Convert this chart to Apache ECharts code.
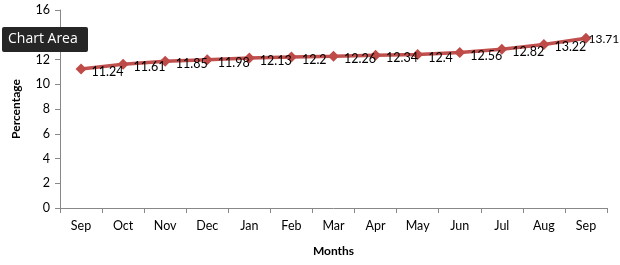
<!DOCTYPE html>
<html><head><meta charset="utf-8">
<script src="https://cdn.jsdelivr.net/npm/echarts@6/dist/echarts.min.js"></script>
<style>html,body{margin:0;padding:0;background:#fff}#c{width:620px;height:265px}</style>
</head><body><div id="c"></div>
<script>
const categories = ['Sep','Oct','Nov','Dec','Jan','Feb','Mar','Apr','May','Jun','Jul','Aug','Sep'];
const values = [11.24,11.61,11.85,11.98,12.13,12.2,12.26,12.34,12.4,12.56,12.82,13.22,13.71];
const yTicks = {min:0, max:16, interval:2};

const chart = echarts.init(document.getElementById('c'));
const font = 'Lato, "Open Sans", sans-serif';
const seriesData = values.map((v, i) => i === values.length - 1
  ? {value: v, label: {distance: 0, offset: [-3, 1], fontSize: 12}}
  : v);
chart.setOption({
  animation:false,
  grid:{left:60, top:10, right:13, bottom:57, containLabel:false},
  xAxis:{type:'category', data:categories, boundaryGap:true,
    name:'Months', nameLocation:'middle', nameGap:37,
    nameTextStyle:{fontFamily:font, fontSize:12, fontWeight:'bold', color:'#000'},
    axisLine:{lineStyle:{color:'#888', width:1}},
    axisTick:{show:true, alignWithLabel:false, length:5, lineStyle:{color:'#888'}},
    axisLabel:{fontFamily:font, fontSize:12.5, color:'#000', margin:11}
  },
  yAxis:{type:'value', min:yTicks.min, max:yTicks.max, interval:yTicks.interval,
    name:'Percentage', nameLocation:'middle', nameGap:38,
    nameTextStyle:{fontFamily:font, fontSize:12, fontWeight:'bold', color:'#000'},
    axisLine:{show:true, lineStyle:{color:'#888', width:1}},
    axisTick:{show:true, length:5, lineStyle:{color:'#888'}},
    splitLine:{show:false},
    axisLabel:{fontFamily:font, fontSize:12.5, color:'#000', margin:10}
  },
  series:[{type:'line', data:seriesData,
    lineStyle:{color:'#c0504d', width:3.5},
    itemStyle:{color:'#be4b48'},
    symbol:'diamond', symbolSize:11,
    label:{show:true, position:'right', distance:5, offset:[0,3],
      fontFamily:font, fontSize:12.5, color:'#000'}
  }],
  graphic:[{type:'group', left:2, top:27, z:100, children:[
    {type:'rect', z:100, shape:{x:0,y:0,width:86,height:25, r:2}, style:{fill:'#262626'}},
    {type:'text', z:101, x:6, y:5, style:{text:'Chart Area', fill:'#fff', font:'14px "Open Sans", sans-serif'}}
  ]}]
});
</script></body></html>
